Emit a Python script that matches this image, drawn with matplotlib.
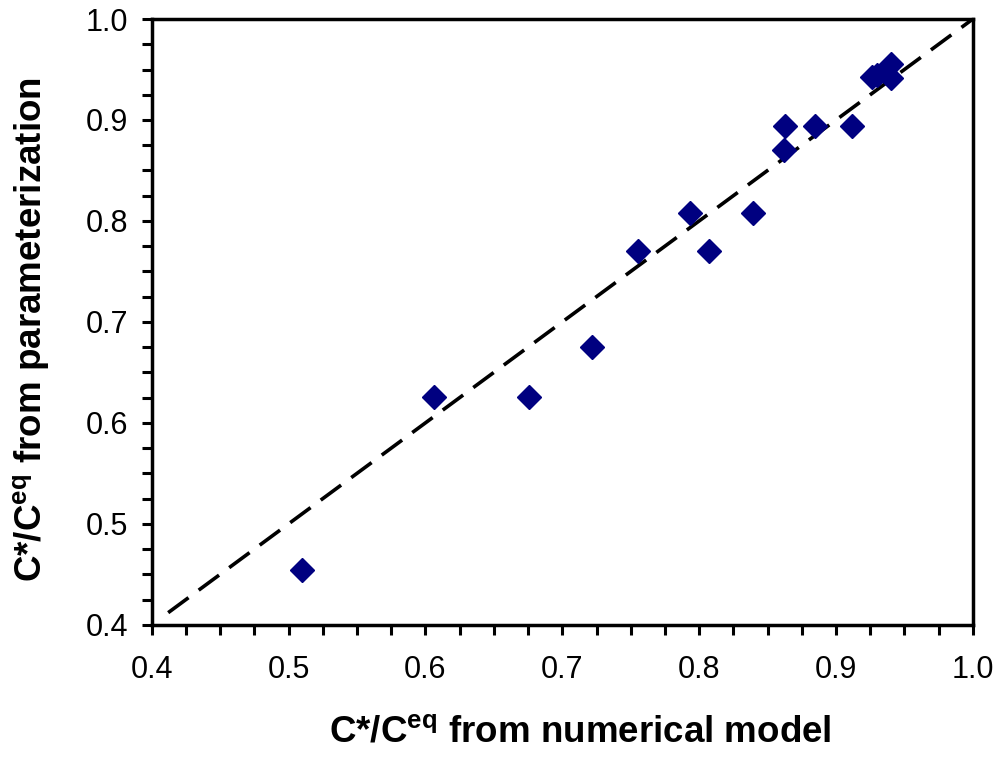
import numpy as np
import matplotlib
matplotlib.use("Agg")
import matplotlib.pyplot as plt
from matplotlib.ticker import MultipleLocator

plt.rcParams['font.family'] = ['Liberation Sans', 'DejaVu Sans']
plt.rcParams['mathtext.fontset'] = 'custom'
plt.rcParams['mathtext.rm'] = 'Liberation Sans'
plt.rcParams['mathtext.bf'] = 'Liberation Sans:bold'

# C*/Ceq values
numerical = [0.510, 0.606, 0.676, 0.722, 0.755, 0.793, 0.807, 0.839,
             0.862, 0.863, 0.885, 0.912, 0.926, 0.930, 0.940, 0.940]
param = [0.454, 0.626, 0.626, 0.675, 0.770, 0.808, 0.770, 0.808,
         0.870, 0.894, 0.894, 0.894, 0.943, 0.945, 0.955, 0.942]
line_x = [0.412, 1.0]

fig = plt.figure(figsize=(10.05, 7.61), dpi=100)
ax = fig.add_axes([0.151, 0.179, 0.817, 0.796])

ax.plot(line_x, line_x, color='black', lw=2.6, dashes=(7, 3.5))
ax.plot(numerical, param, linestyle='none', marker='D', ms=12.5,
        color='#000080', markeredgecolor='#000080')

ax.set_xlim(0.4, 1.0)
ax.set_ylim(0.4, 1.0)
ax.xaxis.set_major_locator(MultipleLocator(0.1))
ax.yaxis.set_major_locator(MultipleLocator(0.1))
ax.xaxis.set_minor_locator(MultipleLocator(0.025))
ax.yaxis.set_minor_locator(MultipleLocator(0.025))
ax.xaxis.set_major_formatter(plt.FormatStrFormatter('%.1f'))
ax.yaxis.set_major_formatter(plt.FormatStrFormatter('%.1f'))
ax.tick_params(which='both', direction='out', length=7, width=2.2, labelsize=22)
ax.tick_params(axis='x', which='major', pad=15)
ax.tick_params(axis='y', which='major', pad=10)
for s in ax.spines.values():
    s.set_linewidth(2.5)

ax.set_xlabel(r'C*/C$^{\mathbf{eq}}$ from numerical model', fontsize=26.5,
              fontweight='bold', labelpad=22)
ax.set_ylabel(r'C*/C$^{\mathbf{eq}}$ from parameterization', fontsize=26.5,
              fontweight='bold', labelpad=24)
ax.xaxis.label.set_x(0.522)
ax.yaxis.label.set_y(0.488)

fig.savefig('out.png', dpi=100)
